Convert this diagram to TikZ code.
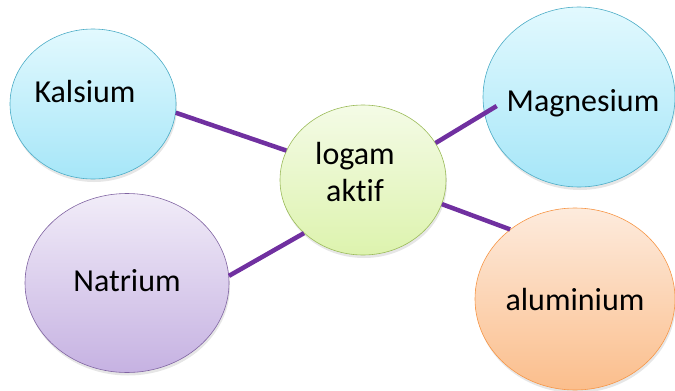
\documentclass[tikz,border=0pt]{standalone}
\usepackage{fontspec}
\setmainfont{Carlito}[Ligatures=NoCommon]
\usepackage{tikz}
\usetikzlibrary{shapes.geometric,calc,shadows}
\definecolor{LinkPurple}{HTML}{7030A0}
\definecolor{AquaLine}{HTML}{4BACC6}
\definecolor{AquaTop}{HTML}{E2F9FE}
\definecolor{AquaBot}{HTML}{A6E6F8}
\definecolor{LimeLine}{HTML}{9BBB59}
\definecolor{LimeTop}{HTML}{F4FBE6}
\definecolor{LimeBot}{HTML}{DDF3AE}
\definecolor{PeachLine}{HTML}{F79646}
\definecolor{PeachTop}{HTML}{FDEBDD}
\definecolor{PeachBot}{HTML}{FBBE8C}
\definecolor{LilacLine}{HTML}{8064A2}
\definecolor{LilacTop}{HTML}{F1ECF8}
\definecolor{LilacBot}{HTML}{C6B2E2}

\tikzset{
  bubble/.style n args={3}{ellipse,draw=#1,line width=0.6pt,top color=#2,bottom color=#3,
    drop shadow={opacity=0.2,shadow xshift=1pt,shadow yshift=-3pt}},
  lbl/.style={font=\fontsize{32}{37}\selectfont,text=black,align=center},
  link/.style={draw=LinkPurple,line width=4.5pt}
}

\begin{document}
\begin{tikzpicture}[x=1pt,y=-1pt]
        \useasboundingbox (0,0) rectangle (675,391);
        \node[bubble={AquaLine}{AquaTop}{AquaBot},minimum width=166pt,minimum height=150pt,
          label={[lbl,xshift=-8pt,yshift=12pt]center:Kalsium}] (kal) at (93,104) {};
        \node[bubble={LilacLine}{LilacTop}{LilacBot},minimum width=204pt,minimum height=179pt,
          label={[lbl,yshift=2pt]center:Natrium}] (nat) at (127,283) {};
        \node[bubble={LimeLine}{LimeTop}{LimeBot},minimum width=166pt,minimum height=150pt,
          label={[lbl,xshift=-8pt,yshift=8pt]center:logam\\aktif}] (lgm) at (363,180) {};
        \node[bubble={AquaLine}{AquaTop}{AquaBot},minimum width=192pt,minimum height=180pt,
          label={[lbl,xshift=4pt,yshift=-6pt]center:Magnesium}] (mag) at (579,97) {};
        \node[bubble={PeachLine}{PeachTop}{PeachBot},minimum width=200pt,minimum height=182pt,
          label={[lbl,yshift=-1pt]center:aluminium}] (alu) at (575,299) {};

        \draw[link] (kal.-6) -- (lgm.159);
        \draw[link] (nat.4) -- (lgm.222);
        \draw[link] (lgm.27) -- ($(mag.west)+(14pt,-9pt)$);
        \draw[link] (lgm.-17) -- (alu.133);
      \end{tikzpicture}
\end{document}
